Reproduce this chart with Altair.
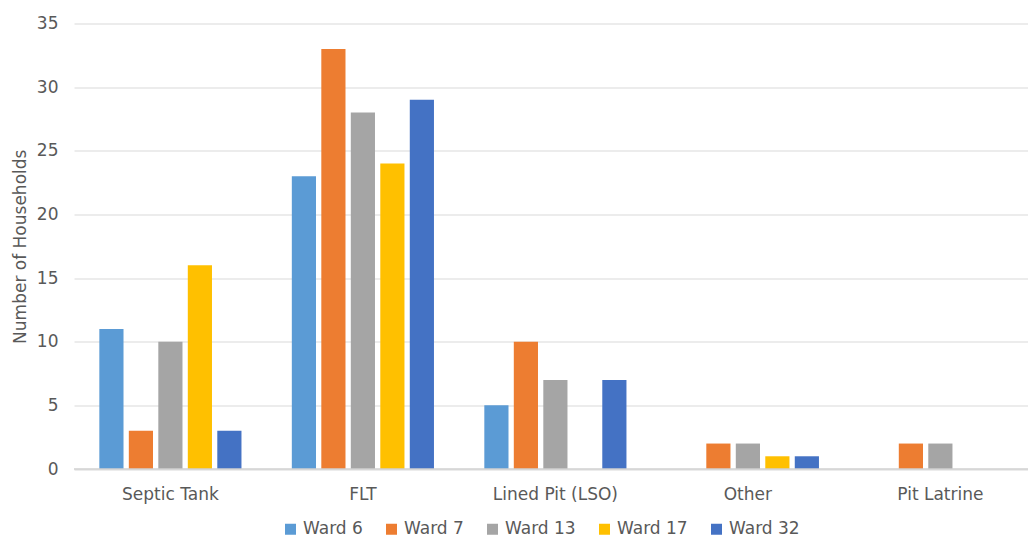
import altair as alt
import pandas as pd

# Sanitation type per ward (number of households)
categories = ["Septic Tank", "FLT", "Lined Pit (LSO)", "Other", "Pit Latrine"]
wards = ["Ward 6", "Ward 7", "Ward 13", "Ward 17", "Ward 32"]
ward_6 = [11, 23, 5, 0, 0]
ward_7 = [3, 33, 10, 2, 2]
ward_13 = [10, 28, 7, 2, 2]
ward_17 = [16, 24, 0, 1, 0]
ward_32 = [3, 29, 7, 1, 0]
colors = ["#5B9BD5", "#ED7D31", "#A5A5A5", "#FFC000", "#4472C4"]
y_ticks = [0, 5, 10, 15, 20, 25, 30, 35]

series = [ward_6, ward_7, ward_13, ward_17, ward_32]
rows = []
for ward, values in zip(wards, series):
    for cat, v in zip(categories, values):
        rows.append({"Type": cat, "Ward": ward, "Households": v})
df = pd.DataFrame(rows)

FONT = "DejaVu Sans"
TEXT = "#595959"

chart = (
    alt.Chart(df)
    .mark_bar()
    .encode(
        x=alt.X(
            "Type:N",
            sort=categories,
            title=None,
            scale=alt.Scale(paddingInner=0.234, paddingOuter=0.095, align=0.62),
            axis=alt.Axis(
                labelAngle=0,
                ticks=False,
                domain=False,
                grid=False,
                labelPadding=17,
                labelFontSize=17,
                labelFont=FONT,
                labelColor=TEXT,
            ),
        ),
        xOffset=alt.XOffset(
            "Ward:N",
            sort=wards,
            scale=alt.Scale(paddingInner=0.18, paddingOuter=0.09),
        ),
        y=alt.Y(
            "Households:Q",
            title="Number of Households",
            scale=alt.Scale(domain=[0, 35], nice=False),
            axis=alt.Axis(
                values=y_ticks,
                ticks=False,
                domain=False,
                gridColor="#D9D9D9",
                gridWidth=1.2,
                labelPadding=16,
                labelFontSize=17,
                labelFont=FONT,
                labelColor=TEXT,
                titleFontSize=17,
                titleFont=FONT,
                titleColor=TEXT,
                titleFontWeight="normal",
                titlePadding=7,
            ),
        ),
        color=alt.Color(
            "Ward:N",
            sort=wards,
            scale=alt.Scale(domain=wards, range=colors),
            legend=alt.Legend(
                title=None,
                orient="none",
                direction="horizontal",
                legendX=208,
                legendY=497,
                symbolType="square",
                symbolSize=121,
                symbolStrokeWidth=0,
                labelFontSize=17,
                labelFont=FONT,
                labelColor=TEXT,
                labelOffset=4,
                columnPadding=20,
            ),
        ),
    )
)

# Zero baseline drawn over the grid
baseline = (
    alt.Chart(pd.DataFrame({"y": [0]}))
    .mark_rule(color="#D0D0D0", strokeWidth=1.6)
    .encode(y="y:Q")
)

final = (
    alt.layer(chart, baseline)
    .properties(
        width=954,
        height=445.5,
        background="white",
        autosize=alt.AutoSizeParams(type="none"),
        padding={"left": 74, "top": 23.5, "right": 0, "bottom": 71},
    )
    .configure_view(stroke=None, strokeWidth=0)
    .configure_axis(domain=False, ticks=False)
)

final.save("out.html", embed_options={"renderer": "svg", "actions": False})
